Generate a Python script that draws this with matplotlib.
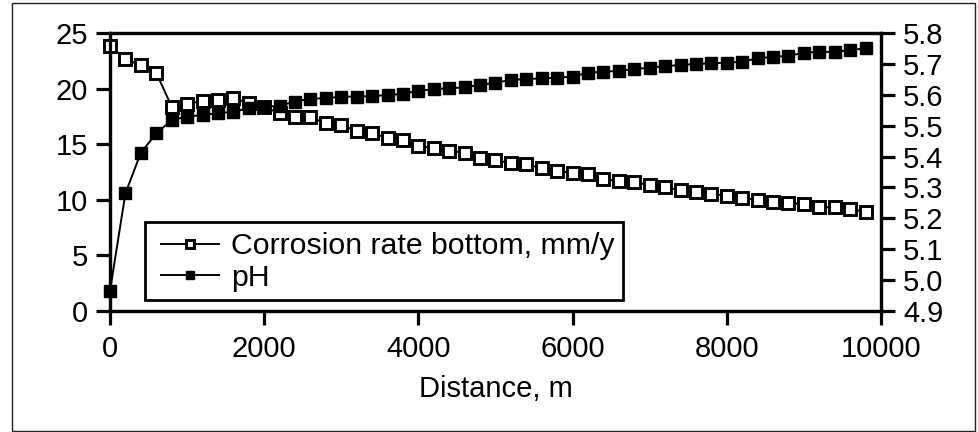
import numpy as np
import matplotlib
matplotlib.use("Agg")
import matplotlib.pyplot as plt
from matplotlib.patches import Rectangle

plt.rcParams['font.family'] = ['Liberation Sans', 'DejaVu Sans']

# distance along the line, m
distance = list(range(0, 10000, 200))

# corrosion rate at the bottom of the pipe, mm/y
corrosion = [23.86, 22.63, 22.10, 21.43, 18.37, 18.60, 18.90, 18.97, 19.18, 18.68,
             18.35, 17.78, 17.42, 17.42, 16.88, 16.73, 16.19, 15.98, 15.56, 15.38,
             14.87, 14.63, 14.39, 14.24, 13.79, 13.58, 13.28, 13.19, 12.83, 12.59,
             12.44, 12.29, 11.87, 11.69, 11.57, 11.33, 11.12, 10.88, 10.67, 10.52,
             10.37, 10.19, 9.98, 9.83, 9.74, 9.59, 9.33, 9.33, 9.15, 8.93]

ph = [4.965, 5.281, 5.412, 5.475, 5.518, 5.529, 5.535, 5.540, 5.545, 5.556,
      5.561, 5.564, 5.578, 5.587, 5.589, 5.594, 5.594, 5.596, 5.599, 5.603,
      5.613, 5.618, 5.621, 5.624, 5.632, 5.639, 5.648, 5.651, 5.653, 5.655,
      5.659, 5.671, 5.675, 5.677, 5.683, 5.688, 5.693, 5.696, 5.700, 5.702,
      5.704, 5.707, 5.718, 5.723, 5.726, 5.736, 5.739, 5.739, 5.745, 5.750]

fs = 21
W, H = 979, 432
fig = plt.figure(figsize=(W / 100, H / 100), dpi=100)

# axes box in pixel terms: left 110, right 881, top 33, bottom 311
ax = fig.add_axes([110 / W, 1 - 311 / H, (881 - 110) / W, (311 - 33) / H])
ax2 = ax.twinx()

l1, = ax.plot(distance, corrosion, color='black', lw=1.4, marker='s', ms=8.8,
              mfc='white', mec='black', mew=2.1, clip_on=False, zorder=3,
              label='Corrosion rate bottom, mm/y')
l2, = ax2.plot(distance, ph, color='black', lw=1.4, marker='s', ms=8.6,
               mfc='black', mec='black', mew=1.0, clip_on=False, zorder=3,
               label='pH')

ax.set_xlim(0, 10000)
ax.set_ylim(0, 25)
ax2.set_ylim(4.9, 5.8)
ax.set_xticks(np.arange(0, 10001, 2000))
ax.set_yticks(np.arange(0, 26, 5))
ax2.set_yticks(np.arange(4.9, 5.81, 0.1))
ax2.set_yticklabels(['%.1f' % v for v in np.arange(4.9, 5.81, 0.1)])

for a in (ax, ax2):
    for s in a.spines.values():
        s.set_linewidth(2.3)
    a.tick_params(direction='out', length=10, width=2.3, labelsize=fs, pad=6)
ax.tick_params(axis='x', pad=7)

ax.set_xlabel('Distance, m', fontsize=fs, labelpad=9)

# legend box drawn by hand, entries placed inside it
ax2.add_artist(Rectangle((145 / W, 1 - 300 / H), (623 - 145) / W, (300 - 222) / H,
                         transform=fig.transFigure, facecolor='white',
                         edgecolor='black', lw=2.0, zorder=5, clip_on=False))
leg = ax2.legend(handles=[l1, l2], loc='center left',
                 bbox_to_anchor=(161 / W, 1 - 262 / H),
                 bbox_transform=fig.transFigure, frameon=False,
                 fontsize=21.8, markerscale=0.6, handlelength=1.9, handletextpad=0.4,
                 borderpad=0, labelspacing=0.1, borderaxespad=0)
leg.set_zorder(6)

# thin frame round the whole figure
fig.patches.append(Rectangle((12 / W, 1 - 431 / H), (975 - 12) / W, (431 - 3) / H,
                             transform=fig.transFigure, fill=False,
                             edgecolor='#222222', lw=1.0))

fig.savefig('out.png', dpi=100)
